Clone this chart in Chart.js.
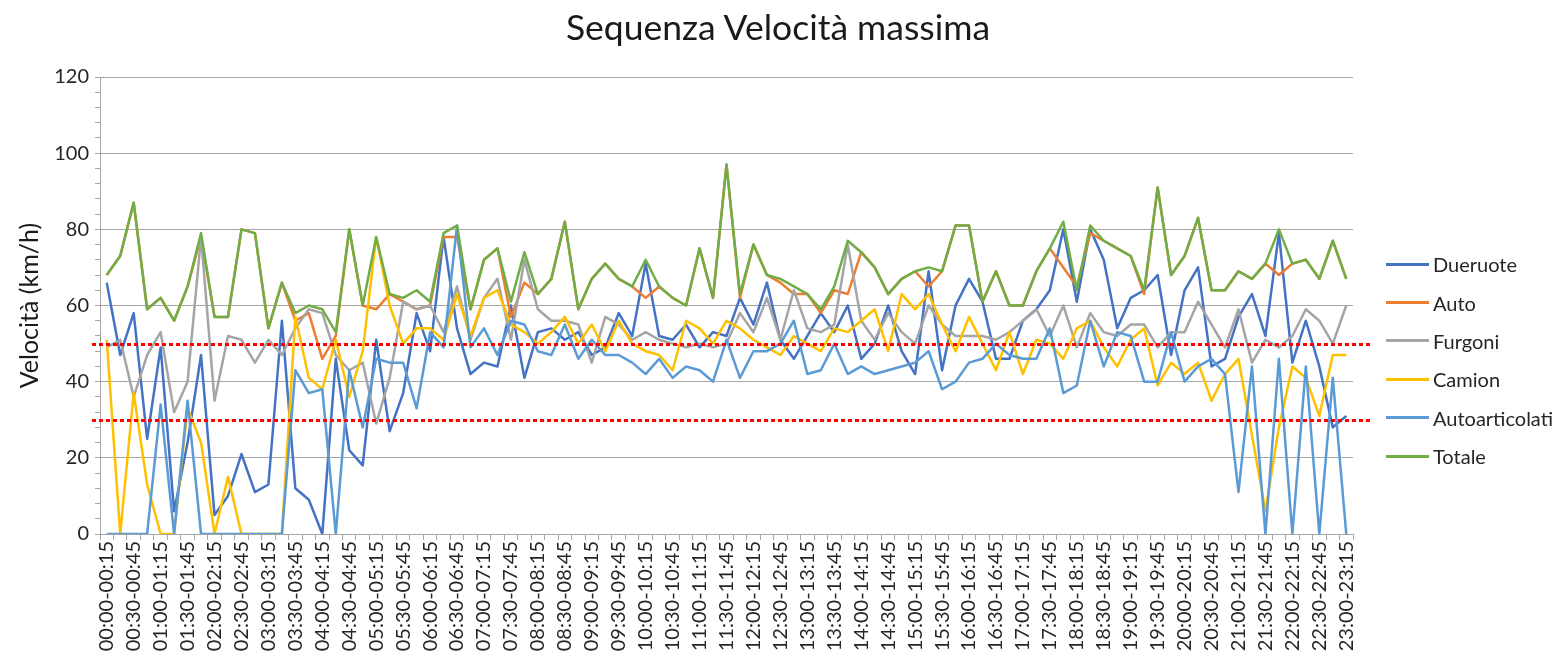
<!DOCTYPE html>
<html>
<head>
<meta charset="utf-8">
<script src="https://cdn.jsdelivr.net/npm/chart.js@4"></script>
<style>
    body { margin: 0; background: #fff; }
    #wrap { position: relative; width: 1554px; height: 656px; }
    #title { position: absolute; left: 0; width: 1556px; top: 6px; text-align: center; font-family: Lato, 'Noto Sans', sans-serif; font-size: 35.5px; line-height: 42px; color: #1a1a1a; }
    #legend { position: absolute; left: 1386px; top: 245px; font-family: Lato, 'Noto Sans', sans-serif; font-size: 20px; color: #262626; }
    .item { display: flex; align-items: center; height: 38.4px; }
    .swatch { width: 43px; height: 3px; margin-right: 4px; }
</style>
</head>
<body>
<div id="wrap">
    <canvas id="chart"></canvas>
    <div id="title">Sequenza Velocità massima</div>
    <div id="legend"></div>
</div>
<script>
// fasce da 15 minuti, 00:00-00:15 ... 23:00-23:15
const categories = [];
for (let i = 0; i < 93; i++) {
    const p = n => String(n).padStart(2, '0');
    const a = i * 15, b = a + 15;
    categories.push(p(Math.floor(a / 60)) + ':' + p(a % 60) + '-' + p(Math.floor(b / 60)) + ':' + p(b % 60));
}

const dueruote = [66,47,58,25,49,6,24,47,5,10,21,11, 13,56,12,9,0,46,22,18,51,27,37,58,
    48,78,54,42,45,44,60,41,53,54,51,53, 47,49,58,52,71,52,51,55,49,53,52,62,
    55,66,51,46,52,58,53,60,46,50,60,48, 42,69,43,60,67,61,46,46,56,59,64,80,
    61,80,72,54,62,64,68,47,64,70,44,46, 57,63,52,79,45,56,44,28,31];
const auto = [68,73,87,59,62,56,65,78,57,57,80,79, 54,66,56,58,46,52,80,60,59,63,61,59,
    60,78,78,59,72,75,57,66,63,67,82,59, 67,71,67,65,62,65,62,60,75,62,97,62,
    76,68,66,63,63,58,64,63,74,70,63,67, 69,65,69,81,81,61,69,60,60,69,75,70,
    65,79,77,75,73,63,91,68,73,83,64,64, 69,67,71,68,71,72,67,77,67];
const furgoni = [49,51,36,47,53,32,40,78,35,52,51,45, 51,47,54,59,58,47,43,45,29,41,61,59,
    60,53,65,51,62,67,51,72,59,56,56,55, 45,57,55,51,53,51,50,49,50,49,50,58,
    53,62,51,64,54,53,55,76,56,51,58,53, 50,60,55,52,52,52,51,53,56,59,52,60,
    49,58,53,52,55,55,49,53,53,61,55,49, 59,45,51,49,52,59,56,50,60];
const camion = [51,0,37,13,0,0,33,24,0,15,0,0, 0,0,57,41,38,51,36,48,78,60,50,54,
    54,51,63,52,62,64,55,53,50,53,57,50, 55,48,56,50,48,47,43,56,54,50,56,54,
    51,49,47,52,50,48,54,53,56,59,48,63, 59,63,55,48,57,50,43,53,42,51,50,46,
    54,56,49,44,51,54,39,45,42,45,35,42, 46,26,6,28,44,41,31,47,47];
const autoarticolati = [0,0,0,0,34,0,35,0,0,0,0,0, 0,0,43,37,38,0,43,28,46,45,45,33,
    53,49,81,49,54,47,56,55,48,47,55,46, 51,47,47,45,42,46,41,44,43,40,51,41,
    48,48,50,56,42,43,50,42,44,42,43,44, 45,48,38,40,45,46,50,47,46,46,54,37,
    39,56,44,53,52,40,40,53,40,44,46,42, 11,44,0,46,0,44,0,41,0];
const totale = [68,73,87,59,62,56,65,79,57,57,80,79, 54,66,58,60,59,53,80,60,78,63,62,64,
    61,79,81,59,72,75,61,74,63,67,82,59, 67,71,67,65,72,65,62,60,75,62,97,63,
    76,68,67,65,63,59,65,77,74,70,63,67, 69,70,69,81,81,61,69,60,60,69,75,82,
    64,81,77,75,73,64,91,68,73,83,64,64, 69,67,71,80,71,72,67,77,67];

const seriesNames = ['Dueruote', 'Auto', 'Furgoni', 'Camion', 'Autoarticolati', 'Totale'];
const seriesData = [dueruote, auto, furgoni, camion, autoarticolati, totale];
const seriesColors = ['#4472C4', '#ED7D31', '#A5A5A5', '#FFC000', '#5B9BD5', '#70AD47'];
const yTicks = [0, 20, 40, 60, 80, 100, 120];
const limitLines = [50, 30]; // soglie tratteggiate rosse

const FONT = "Lato, 'Noto Sans', sans-serif";

// linee rosse punteggiate sopra le serie
const limitPlugin = {
    id: 'limits',
    afterDatasetsDraw(chart) {
        const { ctx, chartArea, scales } = chart;
        ctx.save();
        ctx.strokeStyle = '#FF0000';
        ctx.lineWidth = 3;
        ctx.setLineDash([4, 3]);
        limitLines.forEach(v => {
            const y = Math.round(scales.y.getPixelForValue(v)) + 0.5;
            ctx.beginPath();
            ctx.moveTo(chartArea.left - 8, y);
            ctx.lineTo(chartArea.right + 18, y);
            ctx.stroke();
        });
        ctx.restore();
    }
};

new Chart(document.getElementById('chart').getContext('2d'), {
    type: 'line',
    data: {
        labels: categories,
        datasets: seriesNames.map((name, i) => ({
            label: name,
            data: seriesData[i],
            borderColor: seriesColors[i],
            backgroundColor: seriesColors[i],
            borderWidth: 2.5,
            pointRadius: 0,
            tension: 0,
            borderJoinStyle: 'round',
            order: seriesNames.length - i
        }))
    },
    options: {
        responsive: true,
        maintainAspectRatio: false,
        animation: false,
        layout: { padding: { left: 0, right: 201, top: 77, bottom: 0 } },
        plugins: {
            legend: { display: false },
            tooltip: { enabled: false }
        },
        scales: {
            x: {
                offset: true,
                grid: { offset: true, drawOnChartArea: false, color: '#a6a6a6', tickLength: 6 },
                border: { color: '#a6a6a6' },
                ticks: {
                    autoSkip: false,
                    minRotation: 90,
                    maxRotation: 90,
                    padding: 1,
                    color: '#262626',
                    font: { size: 20, family: FONT },
                    callback: function (val, idx) { return idx % 2 === 0 ? this.getLabelForValue(val) : ''; }
                },
                afterFit: s => { s.height = 122; }
            },
            y: {
                min: 0,
                max: 120,
                grid: {
                    color: c => yTicks.includes(c.tick.value) ? '#a6a6a6' : 'rgba(0,0,0,0)',
                    tickColor: '#a6a6a6',
                    tickLength: 5
                },
                border: { color: '#a6a6a6' },
                ticks: {
                    stepSize: 4,
                    maxTicksLimit: 40,
                    autoSkip: false,
                    padding: 6,
                    color: '#262626',
                    font: { size: 20, family: FONT },
                    callback: v => yTicks.includes(v) ? v : ''
                },
                title: {
                    display: true,
                    text: 'Velocità (km/h)',
                    color: '#1a1a1a',
                    font: { size: 25, family: FONT },
                    padding: { top: 15, bottom: 0 }
                },
                afterFit: s => { s.width = 100; }
            }
        }
    },
    plugins: [limitPlugin]
});

// legenda a destra
const legend = document.getElementById('legend');
seriesNames.forEach((name, i) => {
    const row = document.createElement('div');
    row.className = 'item';
    row.innerHTML = '<span class="swatch" style="background:' + seriesColors[i] + '"></span>' + name;
    legend.appendChild(row);
});
</script>
</body>
</html>
